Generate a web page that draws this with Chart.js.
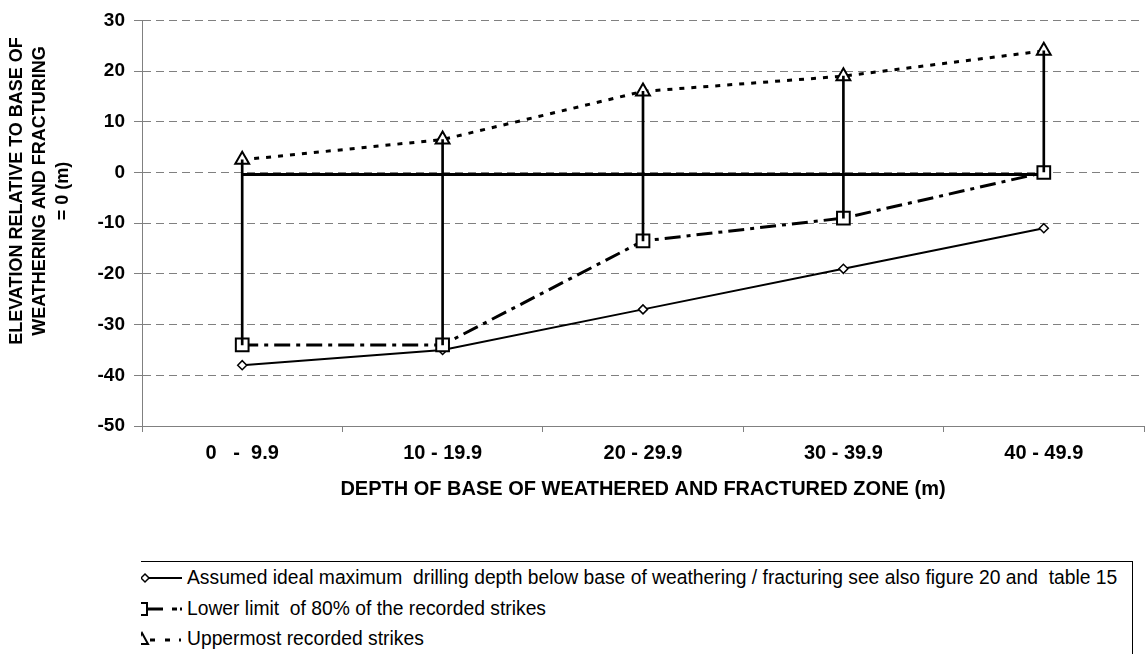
<!DOCTYPE html>
<html><head><meta charset="utf-8">
<script src="https://cdn.jsdelivr.net/npm/chart.js@4.4.1/dist/chart.umd.min.js"></script>
<style>
html,body{margin:0;padding:0;background:#fff;}
#wrap{position:relative;width:1145px;height:654px;overflow:hidden;font-family:'Liberation Sans',Arial,sans-serif;}
#c{position:absolute;left:0;top:0;}
#legend{position:absolute;left:141px;top:561px;width:992px;height:120px;border:1px solid #000;border-left:none;box-sizing:border-box;overflow:hidden;background:#fff;}
.row{position:absolute;left:0;height:30px;display:flex;align-items:center;white-space:pre;font-size:19.3px;color:#000;}
.row svg{flex:none;margin-right:5px;}
</style></head>
<body><div id="wrap"><canvas id="c" width="1145" height="654"></canvas><div id="legend"></div></div>
<script>
// ---- data ----
const categories = ["0   -  9.9", "10 - 19.9", "20 - 29.9", "30 - 39.9", "40 - 49.9"];
const idealDepth = [-38, -35, -27, -19, -11];
const lowerLimit80 = [-34, -34, -13.5, -9, 0];
const uppermost = [2.5, 6.5, 16, 19, 24];
const baseLine = [-0.4, -0.4, -0.4, -0.4, -0.4];
const seriesNames = [
  "Assumed ideal maximum  drilling depth below base of weathering / fracturing see also figure 20 and  table 15",
  "Lower limit  of 80% of the recorded strikes",
  "Uppermost recorded strikes"
];
const yTitleLines = ["ELEVATION RELATIVE TO BASE OF", "WEATHERING AND FRACTURING", "= 0 (m)"];
const xTitle = "DEPTH OF BASE OF WEATHERED AND FRACTURED ZONE (m)";
const yMin = -50, yMax = 30, yStep = 10;

const FONT = "'Liberation Sans', Arial, sans-serif";
const GRID = '#808080';

const yTitlePlugin = {
  id: 'yTitle',
  afterDraw(chart) {
    const ctx = chart.ctx;
    ctx.save();
    ctx.font = 'bold 18px ' + FONT;
    ctx.fillStyle = '#000';
    ctx.textAlign = 'center';
    ctx.textBaseline = 'middle';
    const xs = [17.5, 40.5, 63.5];
    yTitleLines.forEach((t, i) => {
      ctx.save();
      ctx.translate(xs[i], 191);
      ctx.rotate(-Math.PI / 2);
      ctx.fillText(t, 0, 0);
      ctx.restore();
    });
    ctx.restore();
  }
};

new Chart(document.getElementById('c'), {
  data: {
    labels: categories,
    datasets: [
      { type: 'bar', label: 'range', data: lowerLimit80.map((l, i) => [l, uppermost[i]]),
        backgroundColor: '#000', borderWidth: 0, barThickness: 2, order: 0 },
      { type: 'line', label: 'base', data: baseLine, borderColor: '#000', borderWidth: 3,
        pointRadius: 0, tension: 0, order: 5 },
      { type: 'line', label: seriesNames[0], data: idealDepth, borderColor: '#000', borderWidth: 2,
        pointStyle: 'rectRot', pointRadius: 4.5, pointBorderWidth: 1.5, pointBackgroundColor: '#fff',
        pointBorderColor: '#000', tension: 0, order: 3 },
      { type: 'line', label: seriesNames[1], data: lowerLimit80, borderColor: '#000', borderWidth: 3,
        borderDash: [16, 6, 4, 6], pointStyle: 'rect', pointRadius: 9, pointBorderWidth: 2,
        pointBackgroundColor: '#fff', pointBorderColor: '#000', tension: 0, order: 2 },
      { type: 'line', label: seriesNames[2], data: uppermost, borderColor: '#000', borderWidth: 3,
        borderDash: [5, 7], pointStyle: 'triangle', pointRadius: 8, pointBorderWidth: 2,
        pointBackgroundColor: '#fff', pointBorderColor: '#000', tension: 0, order: 1 }
    ]
  },
  options: {
    responsive: false,
    devicePixelRatio: 1,
    animation: false,
    layout: { autoPadding: false, padding: { left: 0, right: 1, top: 17, bottom: 148 } },
    plugins: { legend: { display: false }, tooltip: { enabled: false }, title: { display: false } },
    scales: {
      x: {
        type: 'category',
        offset: true,
        grid: { drawOnChartArea: false, offset: true, tickLength: 6, color: GRID, lineWidth: 1 },
        border: { color: GRID, width: 1 },
        ticks: { color: '#000', font: { family: FONT, size: 20, weight: 'bold' }, padding: 9, maxRotation: 0, autoSkip: false },
        title: { display: true, text: xTitle, color: '#000', font: { family: FONT, size: 20, weight: 'bold' }, padding: { top: 0, bottom: 5 } },
        afterFit(s) { s.height = 80; s.paddingLeft = 0; s.paddingRight = 0; }
      },
      y: {
        min: yMin, max: yMax,
        grid: { color: GRID, lineWidth: 1, tickLength: 8, tickColor: GRID, tickBorderDash: [] },
        border: { color: GRID, width: 1, dash: [8, 5] },
        ticks: { stepSize: yStep, color: '#000', font: { family: FONT, size: 19, weight: 'bold' }, padding: 9 },
        afterFit(s) { s.width = 142; }
      }
    }
  },
  plugins: [yTitlePlugin]
});

// ---- legend (HTML) ----
const legend = document.getElementById('legend');
const samples = [
  '<svg width="41" height="30"><line x1="0" y1="15" x2="41" y2="15" stroke="#000" stroke-width="2"/><path d="M4 11 L8 15 L4 19 L0 15 Z" fill="#fff" stroke="#000" stroke-width="1.5"/></svg>',
  '<svg width="41" height="30"><rect x="-6" y="9" width="12" height="12" fill="#fff" stroke="#000" stroke-width="2"/><line x1="6" y1="15" x2="22" y2="15" stroke="#000" stroke-width="3"/><line x1="31" y1="15" x2="36" y2="15" stroke="#000" stroke-width="3"/><line x1="39" y1="15" x2="41" y2="15" stroke="#000" stroke-width="3"/></svg>',
  '<svg width="41" height="30"><path d="M1 9 L7 20 L-5 20 Z" fill="#fff" stroke="#000" stroke-width="2"/><line x1="9" y1="16" x2="14" y2="16" stroke="#000" stroke-width="3"/><line x1="24" y1="16" x2="29" y2="16" stroke="#000" stroke-width="3"/><line x1="38" y1="16" x2="40" y2="16" stroke="#000" stroke-width="3"/></svg>'
];
const rowTops = [1, 32, 62];
seriesNames.forEach((name, i) => {
  const row = document.createElement('div');
  row.className = 'row';
  row.style.top = rowTops[i] + 'px';
  row.innerHTML = samples[i];
  const span = document.createElement('span');
  span.textContent = name;
  row.appendChild(span);
  legend.appendChild(row);
});
</script>
</body></html>
